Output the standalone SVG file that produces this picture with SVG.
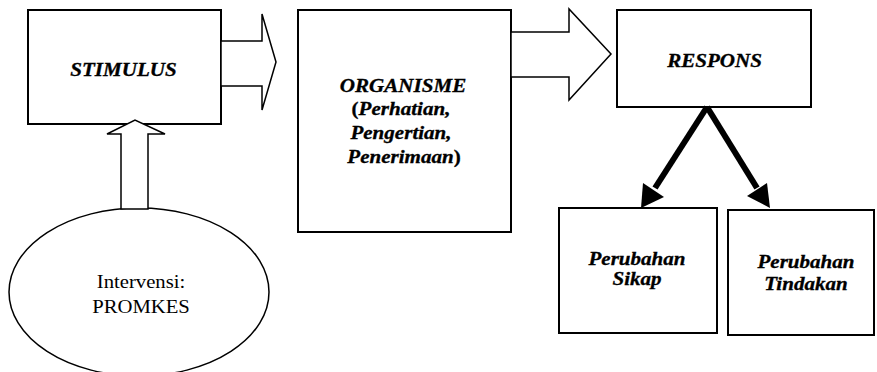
<svg xmlns="http://www.w3.org/2000/svg" width="877" height="372" viewBox="0 0 877 372">
<style>
.box{fill:#fff;stroke:#000;stroke-width:2}
.blk{fill:#fff;stroke:#000;stroke-width:1.5;stroke-linejoin:miter}
.t{font-family:'Liberation Serif','Times New Roman',serif;font-size:18px;font-weight:bold;font-style:italic;text-anchor:middle;fill:#000;stroke:#000;stroke-width:0.3}
.r{font-family:'Liberation Serif','Times New Roman',serif;font-size:18px;text-anchor:middle;fill:#000}
.thick{stroke:#000;stroke-width:6;fill:none}
</style>
<rect width="877" height="372" fill="#fff"/>
<g id="stimulus">
<rect class="box" x="28" y="10" width="193" height="114"/>
<text class="t" transform="translate(123.5,76) scale(1.17,1)">STIMULUS</text>
</g>
<g id="organisme">
<rect class="box" x="298" y="10" width="213" height="222"/>
<text class="t" transform="translate(403,92) scale(1.17,1)">ORGANISME</text>
<text class="t" transform="translate(401,115) scale(1.17,1)"><tspan font-style="normal">(</tspan>Perhatian,</text>
<text class="t" transform="translate(401,139) scale(1.17,1)">Pengertian,</text>
<text class="t" transform="translate(404,163) scale(1.17,1)">Penerimaan<tspan font-style="normal">)</tspan></text>
</g>
<g id="respons">
<rect class="box" x="617" y="10" width="194" height="97"/>
<text class="t" transform="translate(714.5,67) scale(1.17,1)">RESPONS</text>
</g>
<g id="sikap">
<rect class="box" x="559" y="208" width="158" height="125"/>
<text class="t" transform="translate(637,265) scale(1.17,1)">Perubahan</text>
<text class="t" transform="translate(637,285) scale(1.17,1)">Sikap</text>
</g>
<g id="tindakan">
<rect class="box" x="728" y="210" width="146" height="125"/>
<text class="t" transform="translate(806,268) scale(1.17,1)">Perubahan</text>
<text class="t" transform="translate(806,290) scale(1.17,1)">Tindakan</text>
</g>
<g id="promkes">
<ellipse cx="139" cy="292" rx="130" ry="84" fill="#fff" stroke="#000" stroke-width="1.5"/>
<text class="r" transform="translate(141,288) scale(1.15,1)">Intervensi:</text>
<text class="r" transform="translate(141,313) scale(1.15,1)">PROMKES</text>
</g>
<g id="connectors">
<polygon class="blk" points="221,41 262,41 262,14 276,62 262,110 262,86 221,86"/>
<polygon class="blk" points="511,32 569,32 569,9 611,54 569,100 569,77 511,77"/>
<polygon class="blk" points="121,209 121,134 107,134 135,120 165,134 148,134 148,209"/>
<line class="thick" x1="707" y1="107" x2="655" y2="188"/>
<polygon points="641,208 643,183 664,197" fill="#000"/>
<line class="thick" x1="707" y1="107" x2="757" y2="188"/>
<polygon points="770,208 767,183 747,196" fill="#000"/>
</g>
</svg>
